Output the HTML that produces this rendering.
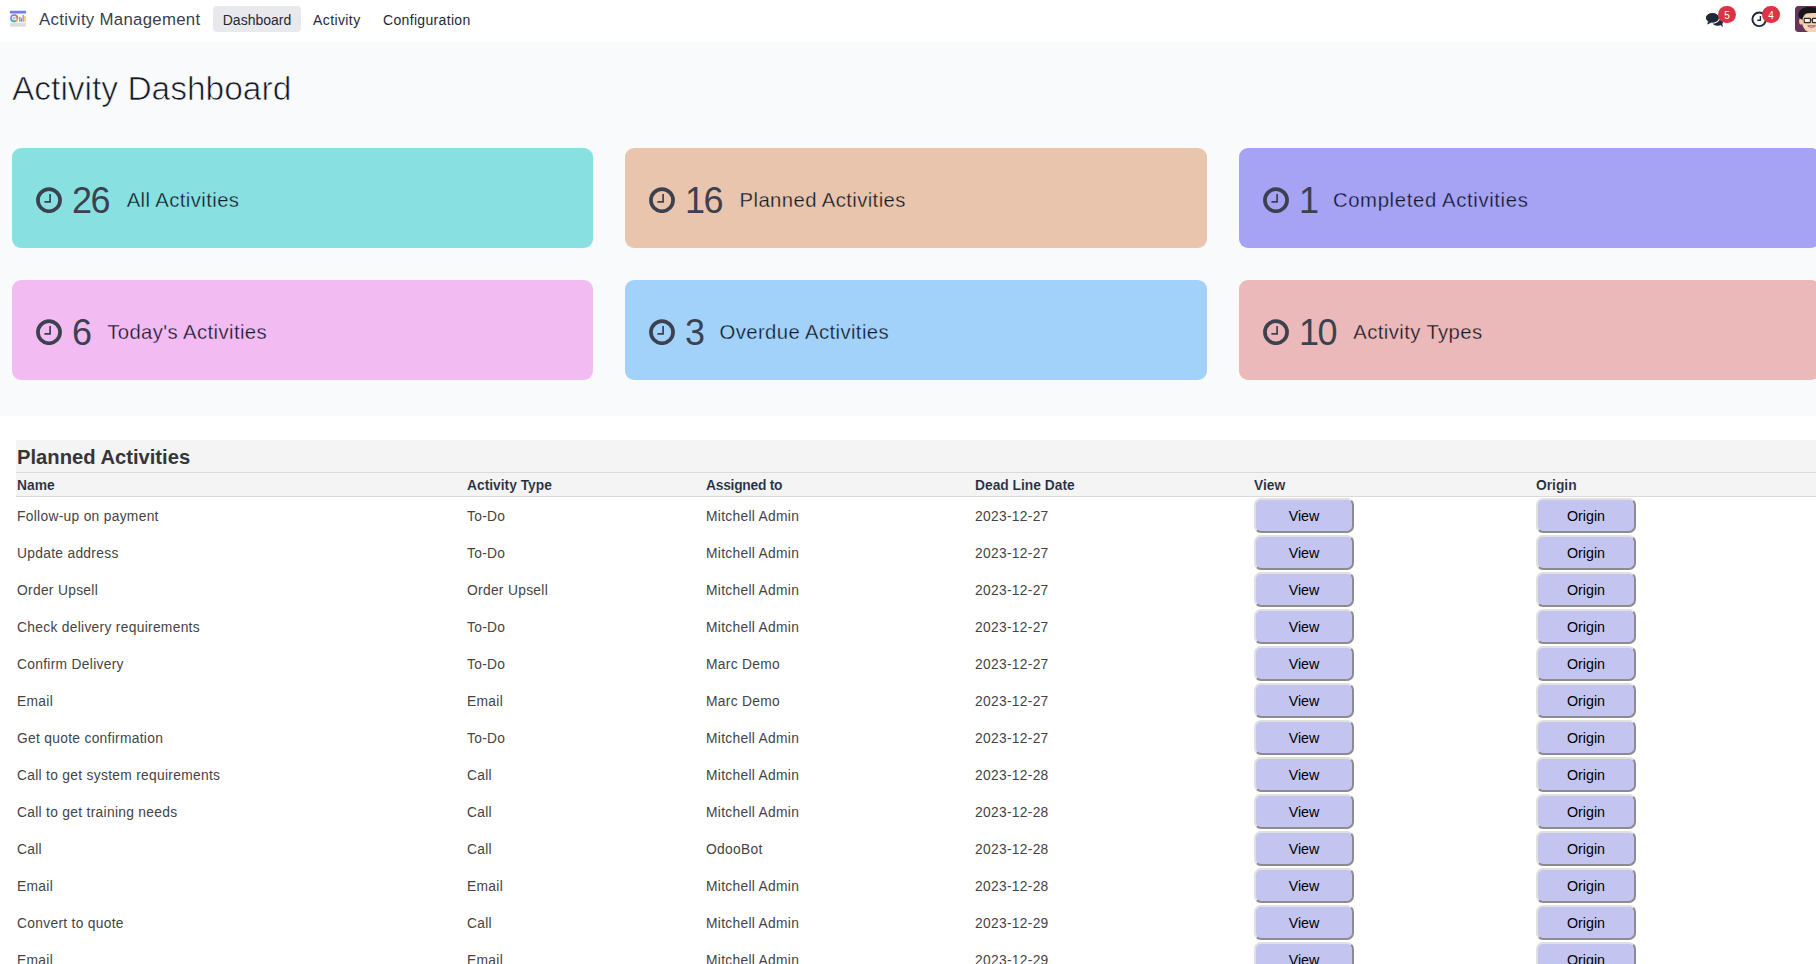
<!DOCTYPE html>
<html lang="en">
<head>
<meta charset="utf-8">
<title>Activity Dashboard</title>
<style>
html,body{margin:0;padding:0;width:1816px;height:964px;overflow:hidden;background:#fff;}
body{position:relative;font-family:"Liberation Sans",Arial,sans-serif;color:#374151;}
.nav{position:absolute;left:0;top:0;width:1816px;height:42px;background:#fff;}
.appicon{position:absolute;left:9px;top:10px;width:18px;height:18px;}
.brand{position:absolute;left:39px;top:-1.5px;height:42px;line-height:42px;font-size:16.8px;letter-spacing:0.3px;color:#374151;white-space:nowrap;}
.menu{position:absolute;top:6px;height:26px;line-height:28px;font-size:14px;color:#1f2937;white-space:nowrap;}
.menu.active{background:#e7e9ed;border-radius:4px;}
.dash{position:absolute;left:0;top:42px;width:1816px;height:374px;background:#f9fafb;}
h1{position:absolute;left:12px;top:0;margin:0;font-weight:normal;font-size:33.5px;line-height:40px;color:#111827;-webkit-text-stroke:0.7px #f9fafb;paint-order:normal;white-space:nowrap;}
.card{position:absolute;width:581.5px;height:100px;border-radius:9px;}
.card .ic{position:absolute;left:24px;top:39px;width:26px;height:26px;}
.card .num{position:absolute;left:60px;top:32.5px;height:40px;line-height:40px;font-size:36px;letter-spacing:-1.5px;color:#3c4150;white-space:nowrap;}
.card .lbl{position:absolute;top:31.8px;height:40px;line-height:40px;font-size:20.3px;letter-spacing:0.4px;color:#111827;-webkit-text-stroke:0.3px var(--bg);white-space:nowrap;}
.tbl{position:absolute;left:16px;top:440px;border-collapse:separate;border-spacing:0;table-layout:fixed;width:1830px;}
.tbl td,.tbl th{padding:0 0 0 1px;text-align:left;white-space:nowrap;overflow:hidden;vertical-align:top;}
.tbl .cap td{height:30px;padding-top:2px;line-height:30px;background:#f4f4f4;border-bottom:1px solid #d8dadd;font-weight:bold;font-size:20.2px;color:#363636;}
.tbl .hd th{height:21px;padding-top:2px;line-height:21px;background:#f4f4f4;border-bottom:1px solid #d8dadd;font-weight:bold;font-size:13.8px;color:#1f2a3c;-webkit-text-stroke:0.12px #f4f4f4;}
.tbl tbody td{height:35px;padding-top:2px;line-height:35px;font-size:13.8px;letter-spacing:0.3px;color:#444;}
.btn{box-sizing:border-box;width:100px;height:35px;background:#c4c4f0;border:2px outset #e0e0e0;border-radius:7px;font-family:"Liberation Sans",Arial,sans-serif;font-size:14.3px;color:#000;padding:0;margin:-1px 0 0 0;display:block;}
.badge{position:absolute;top:6px;width:18px;height:17px;border-radius:9px;background:#dd3445;color:#fff;font-size:10px;line-height:19.5px;text-align:center;}
</style>
</head>
<body>
<div class="nav">
  <svg class="appicon" viewBox="0 0 18 18">
    <rect x="0.8" y="0.8" width="16.4" height="2.9" rx="1.2" fill="#6f7ff0"/>
    <rect x="1.2" y="3.7" width="15.6" height="9.2" fill="#f7f7fb"/>
    <circle cx="5.2" cy="8.2" r="3.2" fill="none" stroke="#6d88f0" stroke-width="1.6"/>
    <path d="M5.2 5 A3.2 3.2 0 0 1 8.2 7.1" fill="none" stroke="#f06a4a" stroke-width="1.6"/>
    <path d="M8.3 8.8 A3.2 3.2 0 0 1 6.6 11.1" fill="none" stroke="#f5c623" stroke-width="1.6"/>
    <path d="M6.6 11.1 A3.2 3.2 0 0 1 2.4 9.6" fill="none" stroke="#3cbf95" stroke-width="1.6"/>
    <circle cx="5.2" cy="8.2" r="1.3" fill="#b9b9c4"/>
    <rect x="10.1" y="6.7" width="1.35" height="5" rx="0.5" fill="#3cbf95"/>
    <rect x="11.8" y="8.2" width="1.25" height="3.5" rx="0.5" fill="#f06a4a"/>
    <rect x="13.45" y="5" width="1.35" height="6.7" rx="0.5" fill="#7d92f5"/>
    <rect x="15.3" y="6" width="1.5" height="5.7" rx="0.4" fill="#f8cc2a"/>
    <rect x="1.2" y="12.9" width="15.5" height="3.8" fill="#dcdcdc"/>
  </svg>
  <div class="brand">Activity Management</div>
  <div class="menu active" style="left:213px;width:88px;text-align:center;">Dashboard</div>
  <div class="menu" style="left:313px;letter-spacing:0.4px;">Activity</div>
  <div class="menu" style="left:383px;letter-spacing:0.33px;">Configuration</div>

  <svg style="position:absolute;left:1703px;top:10px" width="24" height="20" viewBox="0 0 24 20">
    <ellipse cx="14.6" cy="11.6" rx="5.6" ry="4.1" fill="#1f2937"/>
    <path d="M16.8 14.6 L19.9 17.1 L19.3 13.4 Z" fill="#1f2937"/>
    <ellipse cx="9.45" cy="7.8" rx="7.15" ry="5.45" fill="#1f2937" stroke="#fff" stroke-width="1.1"/>
    <path d="M5 11.2 L4.3 14.4 L8.6 12.4 Z" fill="#1f2937"/>
  </svg>
  <div class="badge" style="left:1718px;">5</div>
  <svg style="position:absolute;left:1751px;top:11px" width="17" height="17" viewBox="0 0 17 17">
    <circle cx="8.2" cy="8.3" r="6.8" fill="none" stroke="#1f2937" stroke-width="1.9"/>
    <path d="M9.4 4.9 V9.2 H6.3" fill="none" stroke="#1f2937" stroke-width="1.4"/>
  </svg>
  <div class="badge" style="left:1762px;">4</div>
  <svg style="position:absolute;left:1795px;top:6px" width="26" height="26" viewBox="0 0 26 26">
    <defs><clipPath id="av"><rect x="0" y="0" width="26" height="26" rx="3.5"/></clipPath></defs>
    <g clip-path="url(#av)">
      <rect x="0" y="0" width="26" height="26" fill="#633659"/>
      <ellipse cx="17" cy="16.2" rx="10" ry="10.6" fill="#f4d3b6"/>
      <ellipse cx="5.9" cy="15.4" rx="1.8" ry="3.1" fill="#efc6a6"/>
      <path d="M3.3 9 C3.6 3.5 9 1 15 1.1 C21 1.2 26 2.5 26 5 L26 7.6 C21 6.8 15 6.6 10.2 7.6 C8.6 8.6 7.6 10.6 7.2 13.4 L6.4 13.6 C5 12.5 3.6 11 3.3 9 Z" fill="#161616"/>
      <rect x="9.2" y="12.4" width="6.3" height="4.2" rx="0.7" fill="#f3e3d6" stroke="#2b2b2b" stroke-width="1.15"/><rect x="10.4" y="13.4" width="2.6" height="2" fill="#ffffff" opacity="0.85"/>
      <rect x="17.4" y="12.4" width="6.3" height="4.2" rx="0.7" fill="#f3e3d6" stroke="#2b2b2b" stroke-width="1.15"/><rect x="19.6" y="13.4" width="2.6" height="2" fill="#ffffff" opacity="0.85"/>
      <path d="M15.5 14 H17.4" stroke="#2b2b2b" stroke-width="1"/>
      <path d="M12.8 19.8 C15 21.8 18 21.8 20.3 19.8 Z" fill="#fdfdfd" stroke="#8a4a4a" stroke-width="0.9"/>
    </g>
  </svg>
</div>

<div class="dash">
  <h1 style="top:27px;">Activity Dashboard</h1>
</div>

<!-- cards -->
<div class="card" style="left:12px;width:581px;top:148px;background:#89e0e0;--bg:#89e0e0;">
  <svg class="ic" viewBox="0 0 26 26"><circle cx="13" cy="13.2" r="11.05" fill="none" stroke="#3c4150" stroke-width="3.7"/><path d="M14.1 6.9 V14.8 H8.4" fill="none" stroke="#3c4150" stroke-width="1.7"/></svg>
  <div class="num">26</div><div class="lbl" style="left:114.7px;">All Activities</div>
</div>
<div class="card" style="left:625px;width:582px;top:148px;background:#e9c5ad;--bg:#e9c5ad;">
  <svg class="ic" viewBox="0 0 26 26"><circle cx="13" cy="13.2" r="11.05" fill="none" stroke="#3c4150" stroke-width="3.7"/><path d="M14.1 6.9 V14.8 H8.4" fill="none" stroke="#3c4150" stroke-width="1.7"/></svg>
  <div class="num">16</div><div class="lbl" style="left:114.6px;">Planned Activities</div>
</div>
<div class="card" style="left:1239px;width:581px;top:148px;background:#a6a2f4;--bg:#a6a2f4;">
  <svg class="ic" viewBox="0 0 26 26"><circle cx="13" cy="13.2" r="11.05" fill="none" stroke="#3c4150" stroke-width="3.7"/><path d="M14.1 6.9 V14.8 H8.4" fill="none" stroke="#3c4150" stroke-width="1.7"/></svg>
  <div class="num">1</div><div class="lbl" style="left:93.9px;letter-spacing:0.65px;">Completed Activities</div>
</div>
<div class="card" style="left:12px;width:581px;top:280px;background:#f2bcf2;--bg:#f2bcf2;">
  <svg class="ic" viewBox="0 0 26 26"><circle cx="13" cy="13.2" r="11.05" fill="none" stroke="#3c4150" stroke-width="3.7"/><path d="M14.1 6.9 V14.8 H8.4" fill="none" stroke="#3c4150" stroke-width="1.7"/></svg>
  <div class="num">6</div><div class="lbl" style="left:95.2px;">Today's Activities</div>
</div>
<div class="card" style="left:625px;width:582px;top:280px;background:#a2d2f9;--bg:#a2d2f9;">
  <svg class="ic" viewBox="0 0 26 26"><circle cx="13" cy="13.2" r="11.05" fill="none" stroke="#3c4150" stroke-width="3.7"/><path d="M14.1 6.9 V14.8 H8.4" fill="none" stroke="#3c4150" stroke-width="1.7"/></svg>
  <div class="num">3</div><div class="lbl" style="left:94.5px;">Overdue Activities</div>
</div>
<div class="card" style="left:1239px;width:581px;top:280px;background:#ebb9b9;--bg:#ebb9b9;">
  <svg class="ic" viewBox="0 0 26 26"><circle cx="13" cy="13.2" r="11.05" fill="none" stroke="#3c4150" stroke-width="3.7"/><path d="M14.1 6.9 V14.8 H8.4" fill="none" stroke="#3c4150" stroke-width="1.7"/></svg>
  <div class="num">10</div><div class="lbl" style="left:114.3px;">Activity Types</div>
</div>

<table class="tbl">
  <colgroup><col style="width:450px"><col style="width:239px"><col style="width:269px"><col style="width:279px"><col style="width:282px"><col></colgroup>
  <thead>
    <tr class="cap"><td colspan="6">Planned Activities</td></tr>
    <tr class="hd"><th>Name</th><th>Activity Type</th><th style="letter-spacing:-0.25px">Assigned to</th><th>Dead Line Date</th><th>View</th><th>Origin</th></tr>
  </thead>
  <tbody>
    <tr><td>Follow-up on payment</td><td>To-Do</td><td>Mitchell Admin</td><td>2023-12-27</td><td><button class="btn">View</button></td><td><button class="btn">Origin</button></td></tr>
    <tr><td>Update address</td><td>To-Do</td><td>Mitchell Admin</td><td>2023-12-27</td><td><button class="btn">View</button></td><td><button class="btn">Origin</button></td></tr>
    <tr><td>Order Upsell</td><td>Order Upsell</td><td>Mitchell Admin</td><td>2023-12-27</td><td><button class="btn">View</button></td><td><button class="btn">Origin</button></td></tr>
    <tr><td>Check delivery requirements</td><td>To-Do</td><td>Mitchell Admin</td><td>2023-12-27</td><td><button class="btn">View</button></td><td><button class="btn">Origin</button></td></tr>
    <tr><td>Confirm Delivery</td><td>To-Do</td><td>Marc Demo</td><td>2023-12-27</td><td><button class="btn">View</button></td><td><button class="btn">Origin</button></td></tr>
    <tr><td>Email</td><td>Email</td><td>Marc Demo</td><td>2023-12-27</td><td><button class="btn">View</button></td><td><button class="btn">Origin</button></td></tr>
    <tr><td>Get quote confirmation</td><td>To-Do</td><td>Mitchell Admin</td><td>2023-12-27</td><td><button class="btn">View</button></td><td><button class="btn">Origin</button></td></tr>
    <tr><td>Call to get system requirements</td><td>Call</td><td>Mitchell Admin</td><td>2023-12-28</td><td><button class="btn">View</button></td><td><button class="btn">Origin</button></td></tr>
    <tr><td>Call to get training needs</td><td>Call</td><td>Mitchell Admin</td><td>2023-12-28</td><td><button class="btn">View</button></td><td><button class="btn">Origin</button></td></tr>
    <tr><td>Call</td><td>Call</td><td>OdooBot</td><td>2023-12-28</td><td><button class="btn">View</button></td><td><button class="btn">Origin</button></td></tr>
    <tr><td>Email</td><td>Email</td><td>Mitchell Admin</td><td>2023-12-28</td><td><button class="btn">View</button></td><td><button class="btn">Origin</button></td></tr>
    <tr><td>Convert to quote</td><td>Call</td><td>Mitchell Admin</td><td>2023-12-29</td><td><button class="btn">View</button></td><td><button class="btn">Origin</button></td></tr>
    <tr><td>Email</td><td>Email</td><td>Mitchell Admin</td><td>2023-12-29</td><td><button class="btn">View</button></td><td><button class="btn">Origin</button></td></tr>
    <tr><td>Meeting</td><td>Meeting</td><td>Mitchell Admin</td><td>2023-12-29</td><td><button class="btn">View</button></td><td><button class="btn">Origin</button></td></tr>
  </tbody>
</table>
</body>
</html>
